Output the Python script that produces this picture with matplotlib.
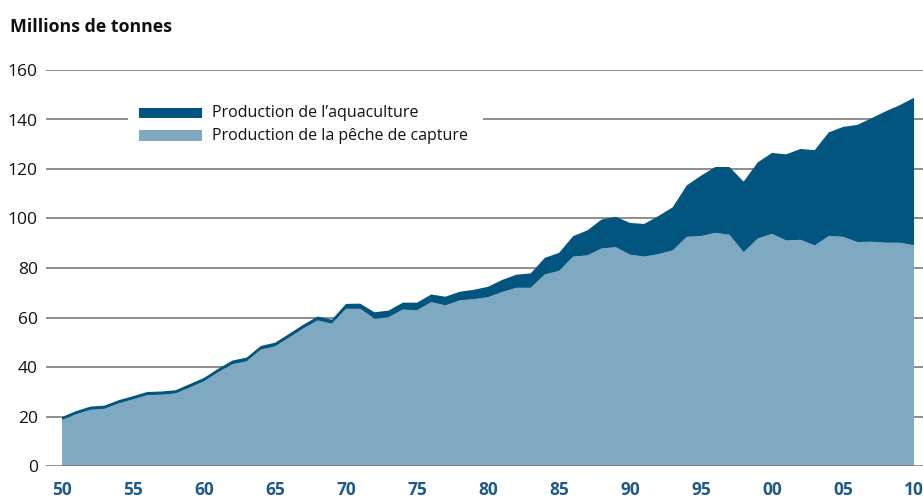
import matplotlib
matplotlib.use("Agg")
import matplotlib.pyplot as plt
from matplotlib.patches import Rectangle

plt.rcParams['font.family'] = ['Open Sans', 'DejaVu Sans']

years = list(range(1950, 2011))
capture = [18.6, 20.9, 22.7, 23.1, 25.3, 26.9, 28.6, 28.8, 29.3, 31.7,
           34.2, 37.9, 41.1, 42.3, 47.0, 48.3, 51.9, 55.6, 58.8, 57.5,
           63.5, 63.5, 59.5, 60.1, 63.2, 62.9, 66.2, 64.9, 66.9, 67.4,
           68.2, 70.3, 72.0, 72.0, 77.4, 78.8, 84.6, 85.1, 87.9, 88.4,
           85.4, 84.6, 85.6, 87.1, 92.6, 92.9, 94.2, 93.4, 86.4, 91.9,
           93.8, 91.1, 91.4, 89.1, 92.9, 92.6, 90.5, 90.6, 90.2, 90.2,
           89.2]
aquaculture = [1.2, 1.3, 1.3, 1.3, 1.3, 1.3, 1.3, 1.3, 1.3, 1.4,
               1.4, 1.4, 1.5, 1.5, 1.5, 1.5, 1.5, 1.5, 1.6, 1.6,
               2.0, 2.1, 2.6, 2.7, 2.8, 3.1, 3.1, 3.5, 3.5, 3.8,
               4.2, 4.9, 5.3, 5.8, 6.7, 7.3, 8.3, 10.1, 11.7, 12.3,
               12.8, 13.2, 15.4, 17.4, 20.8, 24.4, 26.6, 27.4, 28.5, 30.8,
               32.7, 34.8, 36.7, 38.5, 41.9, 44.4, 47.3, 49.9, 53.1, 55.6,
               59.6]
tick_years = list(range(1950, 2011, 5))
tick_labels = ['50', '55', '60', '65', '70', '75', '80', '85', '90', '95', '00', '05', '10']
y_ticks = list(range(0, 161, 20))
series_names = ["Production de l\u2019aquaculture", "Production de la p\u00eache de capture"]

DARK = '#02557F'
LIGHT = '#7FA8C1'
GRID = '#7a7a7a'
TICKBLUE = '#1d5a88'

W, H = 923, 498
fig = plt.figure(figsize=(W / 100, H / 100), dpi=100)
ax = fig.add_axes([46 / W, 32 / H, 877 / W, 396 / H])

ax.stackplot(years, capture, aquaculture, colors=[LIGHT, DARK], linewidth=0, zorder=2)

ax.set_xlim(1948.87, 2010.63)
ax.set_ylim(0, 160)
for s in ax.spines.values():
    s.set_visible(False)

for yv in y_ticks:
    ax.axhline(yv, color=GRID, linewidth=1.2, zorder=1 if yv else 3)

ax.set_yticks(y_ticks)
ax.tick_params(axis='y', length=0, pad=6, labelsize=12.5, labelcolor='#111111')
ax.set_xticks(tick_years)
ax.set_xticklabels(tick_labels, fontweight='bold', color=TICKBLUE, fontsize=12.5)
ax.tick_params(axis='x', length=0, pad=11)

fig.text(10 / W, 1 - 32 / H, "Millions de tonnes", fontsize=12.8, fontweight='bold',
         ha='left', va='baseline', color='#111111')

# legend (manual, white box interrupts gridline)
fig.patches.append(Rectangle((128 / W, 1 - 152 / H), 355 / W, 54 / H, transform=fig.transFigure,
                             facecolor='white', edgecolor='none', zorder=5))
for i, (name, col) in enumerate(zip(series_names, [DARK, LIGHT])):
    ytop = 108 + i * 22.5
    fig.patches.append(Rectangle((139 / W, 1 - (ytop + 10.5) / H), 63 / W, 10.5 / H,
                                 transform=fig.transFigure, facecolor=col, edgecolor='none', zorder=6))
    fig.text(212 / W, 1 - (ytop + 5) / H, name, fontsize=11.5, ha='left', va='center',
             color='#111111', zorder=7)

fig.savefig('out.png', dpi=100)
